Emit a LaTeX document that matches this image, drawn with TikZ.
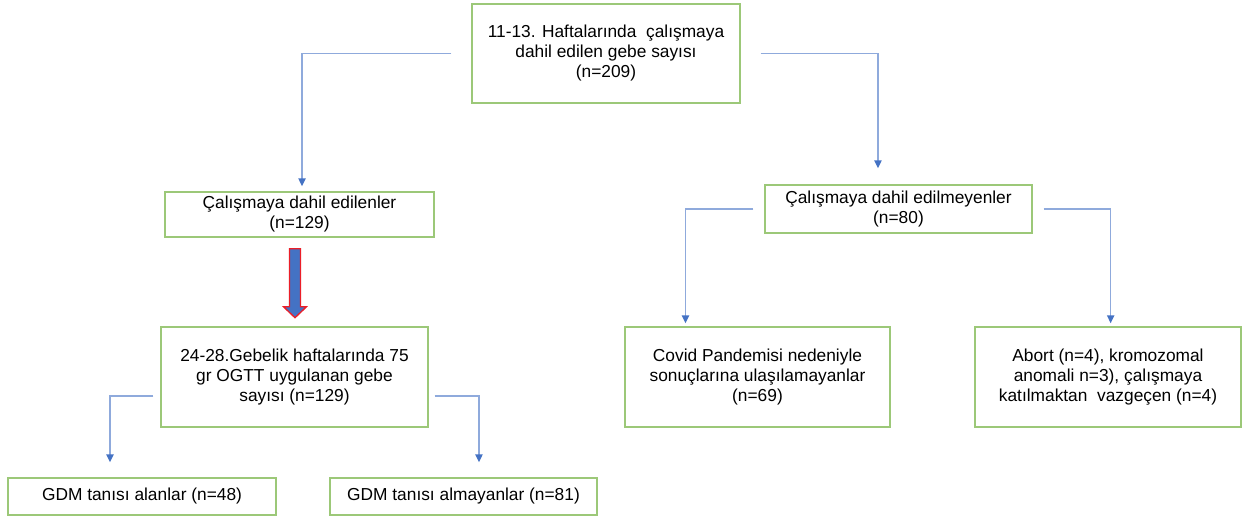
\documentclass[tikz,border=0pt]{standalone}
\usepackage{fontspec}
\setmainfont{Liberation Sans}
\usetikzlibrary{arrows.meta, positioning}
\definecolor{boxgreen}{RGB}{156, 200, 120}
\definecolor{linkblue}{RGB}{143, 170, 220}
\definecolor{tipblue}{RGB}{68, 114, 196}
\definecolor{arrowred}{RGB}{235, 30, 40}

\tikzset{
  flowbox/.style={draw=boxgreen, line width=1.1pt, fill=white, align=center,
    font=\fontsize{13}{15}\selectfont, inner sep=2pt},
  conn/.style={draw=linkblue, line width=1.1pt,
    -{Triangle[width=5.5pt, length=6pt, color=tipblue]}},
  bigarrow/.style={fill=tipblue, draw=arrowred, line width=1pt, line join=miter}
}

\begin{document}
\begin{tikzpicture}[x=0.75pt, y=-0.75pt]
\useasboundingbox (0,0) rectangle (1243,517);

% Top box
\node[flowbox, minimum width=201pt, minimum height=74.25pt] (top) at (606,53.5)
  {11-13. Haftalarında~ çalışmaya\\dahil edilen gebe sayısı\\(n=209)};

% Included / excluded
\node[flowbox, minimum width=201.75pt, minimum height=33.75pt] (incl) at (299.5,214.5)
  {Çalışmaya dahil edilenler\\(n=129)};
\node[flowbox, minimum width=200.25pt, minimum height=36pt] (excl) at (898.5,209)
  {Çalışmaya dahil edilmeyenler\\(n=80)};

% OGTT box
\node[flowbox, minimum width=200.25pt, minimum height=75pt] (ogtt) at (294.5,377)
  {24-28.Gebelik haftalarında 75\\gr OGTT uygulanan gebe\\sayısı (n=129)};

% GDM results
\node[flowbox, minimum width=201pt, minimum height=27.75pt] (gdmyes) at (142,496.5)
  {GDM tanısı alanlar (n=48)};
\node[flowbox, minimum width=200.25pt, minimum height=27.75pt] (gdmno) at (463.5,496.5)
  {GDM tanısı almayanlar (n=81)};

% Excluded reasons
\node[flowbox, minimum width=198.75pt, minimum height=75pt] (covid) at (757.5,377)
  {Covid Pandemisi nedeniyle\\sonuçlarına ulaşılamayanlar\\(n=69)};
\node[flowbox, minimum width=199.5pt, minimum height=75pt] (abort) at (1108,377)
  {Abort (n=4), kromozomal\\anomali n=3), çalışmaya\\katılmaktan~ vazgeçen (n=4)};

% Connectors
\draw[conn] ([xshift=-15pt]top.west) -| ([xshift=1.9pt, yshift=3.75pt]incl.north);
\draw[conn] ([xshift=15pt]top.east) -| ([xshift=-15.4pt, yshift=12pt]excl.north);
\draw[conn] ([xshift=-5.25pt, yshift=-14.25pt]ogtt.west) -| ([xshift=-24pt, yshift=11.25pt]gdmyes.north);
\draw[conn] ([xshift=4.5pt, yshift=-14.25pt]ogtt.east) -| ([xshift=11.6pt, yshift=11.25pt]gdmno.north);
\draw[conn] ([xshift=-8.25pt]excl.west) -| ([xshift=-54pt, yshift=2.25pt]covid.north);
\draw[conn] ([xshift=8.25pt]excl.east) -| ([xshift=2pt, yshift=2.25pt]abort.north);

% Block arrow
\draw[bigarrow] (incl.south) ++(-10,11) -- ++(11,0) -- ++(0,58) -- ++(6,0)
  -- ++(-11.5,11) -- ++(-11.5,-11) -- ++(6,0) -- cycle;
\end{tikzpicture}
\end{document}
